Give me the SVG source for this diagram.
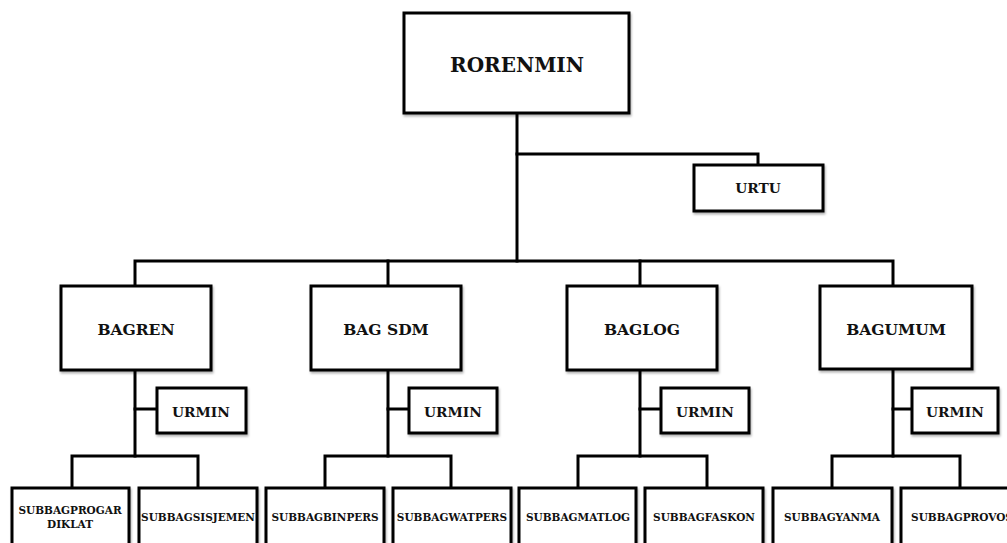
<svg xmlns="http://www.w3.org/2000/svg" width="1007" height="543" viewBox="0 0 1007 543">
  <defs>
    <filter id="shadow" x="-10%" y="-10%" width="130%" height="140%">
      <feDropShadow dx="1" dy="2" stdDeviation="1.2" flood-color="#000" flood-opacity="0.3"/>
    </filter>
    <style>
      .box { fill: #fff; stroke: #000; stroke-width: 3; filter: url(#shadow); }
      .line { fill: none; stroke: #000; stroke-width: 3; stroke-linejoin: miter; stroke-linecap: square; }
      text { font-family: "DejaVu Serif", "Liberation Serif", serif; font-weight: bold; fill: #111; text-anchor: middle; dominant-baseline: central; }
      .t-top { font-size: 20px; }
      .t-bag { font-size: 15.5px; }
      .t-ur { font-size: 13.8px; }
      .t-sub { font-size: 10.5px; }
    </style>
  </defs>
  <rect width="1007" height="543" fill="#fff"/>

  <!-- connectors -->
  <g id="connectors" class="line">
    <path d="M517 113 V261"/>
    <path d="M517 154 H758 V165"/>
    <path d="M135 286 V261 H893 V286"/>
    <path d="M388 261 V286"/>
    <path d="M640 261 V286"/>
    <!-- BAGREN branch -->
    <path d="M135 370 V456"/>
    <path d="M135 409 H157"/>
    <path d="M72 488 V456 H198 V488"/>
    <!-- BAG SDM branch -->
    <path d="M388 370 V456"/>
    <path d="M388 409 H409"/>
    <path d="M325 488 V456 H451 V488"/>
    <!-- BAGLOG branch -->
    <path d="M640 370 V456"/>
    <path d="M640 409 H661"/>
    <path d="M578 488 V456 H707 V488"/>
    <!-- BAGUMUM branch -->
    <path d="M893 370 V456"/>
    <path d="M893 409 H912"/>
    <path d="M832 488 V456 H960 V488"/>
  </g>

  <g id="rorenmin"><rect class="box" x="404" y="13" width="225" height="100"/><text class="t-top" x="517" y="65">RORENMIN</text></g>
  <g id="urtu"><rect class="box" x="694" y="165" width="129" height="46"/><text class="t-ur" x="758" y="188">URTU</text></g>

  <g id="bagren"><rect class="box" x="61" y="286" width="150" height="84"/><text class="t-bag" x="136" y="329">BAGREN</text></g>
  <g id="bagsdm"><rect class="box" x="311" y="286" width="150" height="84"/><text class="t-bag" x="386" y="329">BAG SDM</text></g>
  <g id="baglog"><rect class="box" x="567" y="286" width="150" height="84"/><text class="t-bag" x="642" y="329">BAGLOG</text></g>
  <g id="bagumum"><rect class="box" x="820" y="286" width="152" height="83"/><text class="t-bag" x="896" y="329">BAGUMUM</text></g>

  <g id="urmin-1"><rect class="box" x="157" y="388" width="89" height="45"/><text class="t-ur" x="201" y="412">URMIN</text></g>
  <g id="urmin-2"><rect class="box" x="409" y="388" width="88" height="45"/><text class="t-ur" x="453" y="412">URMIN</text></g>
  <g id="urmin-3"><rect class="box" x="661" y="388" width="88" height="45"/><text class="t-ur" x="705" y="412">URMIN</text></g>
  <g id="urmin-4"><rect class="box" x="912" y="388" width="86" height="45"/><text class="t-ur" x="955" y="412">URMIN</text></g>

  <g id="subbagprogar"><rect class="box" x="12" y="488" width="117" height="70"/><text class="t-sub" x="70" y="510">SUBBAGPROGAR</text><text class="t-sub" x="70" y="524">DIKLAT</text></g>
  <g id="subbagsisjemen"><rect class="box" x="139" y="488" width="118" height="70"/><text class="t-sub" x="198" y="517">SUBBAGSISJEMEN</text></g>
  <g id="subbagbinpers"><rect class="box" x="266" y="488" width="118" height="70"/><text class="t-sub" x="325" y="517">SUBBAGBINPERS</text></g>
  <g id="subbagwatpers"><rect class="box" x="393" y="488" width="118" height="70"/><text class="t-sub" x="452" y="517">SUBBAGWATPERS</text></g>
  <g id="subbagmatlog"><rect class="box" x="519" y="488" width="117" height="70"/><text class="t-sub" x="578" y="517">SUBBAGMATLOG</text></g>
  <g id="subbagfaskon"><rect class="box" x="645" y="488" width="118" height="70"/><text class="t-sub" x="704" y="517">SUBBAGFASKON</text></g>
  <g id="subbagyanma"><rect class="box" x="773" y="488" width="119" height="70"/><text class="t-sub" x="832" y="517">SUBBAGYANMA</text></g>
  <g id="subbagprovos"><rect class="box" x="901" y="488" width="118" height="70"/><text class="t-sub" x="962" y="517">SUBBAGPROVOS</text></g>
</svg>
